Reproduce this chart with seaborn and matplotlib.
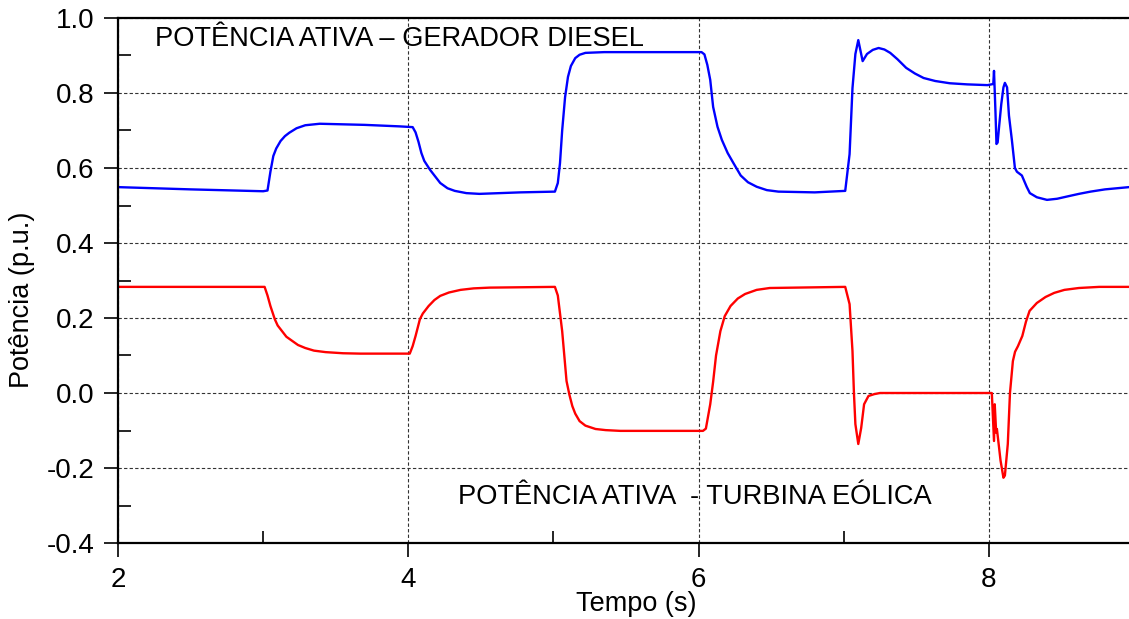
import matplotlib
matplotlib.use("Agg")
import matplotlib.pyplot as plt
import seaborn as sns
import pandas as pd
from matplotlib.ticker import MultipleLocator, FormatStrFormatter

# ---- data ----
t_diesel = [2.0, 2.5, 3.0, 3.03, 3.05, 3.07, 3.09, 3.12, 3.15, 3.18, 3.23,
            3.29, 3.39, 3.7, 3.94, 4.03, 4.05, 4.07, 4.09, 4.11, 4.15, 4.18,
            4.22, 4.27, 4.32, 4.4, 4.49, 4.77, 5.01, 5.03, 5.045, 5.06, 5.08,
            5.1, 5.12, 5.15, 5.18, 5.22, 5.35, 6.02, 6.04, 6.06, 6.08, 6.1,
            6.13, 6.16, 6.2, 6.24, 6.29, 6.34, 6.4, 6.47, 6.55, 6.8, 7.01,
            7.04, 7.06, 7.08, 7.10, 7.13, 7.16, 7.2, 7.24, 7.28, 7.32, 7.37,
            7.43, 7.49, 7.55, 7.63, 7.73, 7.85, 7.99, 8.03, 8.035, 8.045,
            8.052, 8.06, 8.07, 8.085, 8.10, 8.11, 8.125, 8.138, 8.158, 8.179,
            8.193, 8.227, 8.26, 8.282, 8.33, 8.40, 8.47, 8.55, 8.62, 8.7, 8.8,
            8.965]
p_diesel = [0.549, 0.543, 0.538, 0.540, 0.59, 0.632, 0.652, 0.672, 0.685,
            0.694, 0.706, 0.714, 0.718, 0.715, 0.711, 0.709, 0.695, 0.67,
            0.64, 0.619, 0.595, 0.58, 0.56, 0.546, 0.539, 0.533, 0.531, 0.535,
            0.537, 0.56, 0.613, 0.70, 0.789, 0.843, 0.872, 0.893, 0.902,
            0.907, 0.909, 0.909, 0.903, 0.875, 0.835, 0.763, 0.71, 0.675,
            0.64, 0.613, 0.58, 0.562, 0.55, 0.541, 0.537, 0.535, 0.539, 0.637,
            0.813, 0.904, 0.941, 0.885, 0.904, 0.915, 0.920, 0.916, 0.907,
            0.89, 0.867, 0.852, 0.840, 0.832, 0.826, 0.823, 0.821, 0.824,
            0.859, 0.75, 0.664, 0.668, 0.71, 0.77, 0.815, 0.827, 0.815, 0.74,
            0.675, 0.60, 0.59, 0.58, 0.55, 0.533, 0.522, 0.515, 0.518, 0.525,
            0.531, 0.537, 0.543, 0.549]

t_wind = [2.0, 2.5, 3.01, 3.03, 3.05, 3.08, 3.1, 3.13, 3.16, 3.2, 3.24, 3.29,
          3.35, 3.43, 3.55, 3.67, 3.98, 4.01, 4.03, 4.05, 4.08, 4.1, 4.14,
          4.18, 4.22, 4.28, 4.36, 4.45, 4.56, 5.01, 5.03, 5.06, 5.09, 5.11,
          5.13, 5.15, 5.18, 5.22, 5.29, 5.36, 5.46, 6.03, 6.05, 6.08, 6.1,
          6.12, 6.15, 6.18, 6.22, 6.27, 6.32, 6.4, 6.49, 7.01, 7.04, 7.06,
          7.07, 7.08, 7.10, 7.12, 7.14, 7.17, 7.21, 7.25, 8.02, 8.035, 8.04,
          8.05, 8.055, 8.07, 8.08, 8.10, 8.11, 8.13, 8.145, 8.165, 8.18, 8.2,
          8.23, 8.255, 8.28, 8.33, 8.39, 8.45, 8.52, 8.62, 8.76, 8.965]
p_wind = [0.283, 0.283, 0.283, 0.26, 0.232, 0.197, 0.18, 0.165, 0.15, 0.139,
          0.128, 0.120, 0.113, 0.109, 0.106, 0.105, 0.105, 0.105, 0.125,
          0.152, 0.197, 0.212, 0.232, 0.248, 0.259, 0.268, 0.275, 0.279,
          0.281, 0.283, 0.26, 0.165, 0.032, -0.005, -0.035, -0.055, -0.075,
          -0.087, -0.096, -0.099, -0.101, -0.101, -0.095, -0.03, 0.03, 0.1,
          0.165, 0.205, 0.232, 0.252, 0.264, 0.275, 0.280, 0.283, 0.237,
          0.112, 0.0, -0.083, -0.136, -0.093, -0.03, -0.008, -0.003, 0.0,
          0.0, -0.128, -0.03, -0.106, -0.096, -0.146, -0.18, -0.226, -0.22,
          -0.136, 0.0, 0.085, 0.11, 0.125, 0.152, 0.19, 0.219, 0.24, 0.256,
          0.267, 0.275, 0.28, 0.283, 0.283]

label_diesel = "POTÊNCIA ATIVA – GERADOR DIESEL"
label_wind = "POTÊNCIA ATIVA  - TURBINA EÓLICA"

df = pd.concat([
    pd.DataFrame({"t": t_diesel, "p": p_diesel, "serie": "diesel"}),
    pd.DataFrame({"t": t_wind, "p": p_wind, "serie": "eolica"}),
], ignore_index=True)

sns.set_style("ticks")
plt.rcParams["font.family"] = ["Liberation Sans", "DejaVu Sans"]
plt.rcParams["text.color"] = "black"
plt.rcParams["axes.labelcolor"] = "black"
plt.rcParams["xtick.color"] = "black"
plt.rcParams["ytick.color"] = "black"

fig = plt.figure(figsize=(11.29, 6.19), dpi=100)
ax = fig.add_axes([118/1129, 76/619, 1011/1129, 525/619])

sns.lineplot(data=df, x="t", y="p", hue="serie", estimator=None,
             palette={"diesel": "#0000ff", "eolica": "#ff0000"},
             linewidth=1.7, legend=False, ax=ax)

ax.set_xlim(2, 8.965)
ax.set_ylim(-0.4, 1.0)
ax.xaxis.set_major_locator(MultipleLocator(2))
ax.xaxis.set_minor_locator(MultipleLocator(1))
ax.yaxis.set_major_locator(MultipleLocator(0.2))
ax.yaxis.set_minor_locator(MultipleLocator(0.1))
ax.yaxis.set_major_formatter(FormatStrFormatter("%.1f"))

ax.tick_params(which="major", direction="out", length=10, width=1.2,
               labelsize=20, colors="black", pad=7)
ax.tick_params(which="minor", direction="in", length=9, width=1.2,
               colors="black")
ax.tick_params(axis="x", which="minor", top=False)

for s in ["left", "bottom", "top"]:
    ax.spines[s].set_linewidth(1.6)
    ax.spines[s].set_color("black")
ax.spines["right"].set_visible(False)

ax.grid(True, which="major", color="#333333", linestyle=(0, (3, 2)),
        linewidth=0.8)
ax.set_axisbelow(True)

ax.text(2.255, 0.944, label_diesel, fontsize=19.6, va="center", ha="left",
        color="black")
ax.text(4.342, -0.277, label_wind, fontsize=19.6, va="center", ha="left",
        color="black")

ax.set_xlabel("Tempo (s)", fontsize=19.5, color="black")
ax.set_ylabel("Potência (p.u.)", fontsize=19.5, color="black")
ax.xaxis.set_label_coords((636 - 118) / 1011, (543 - 591) / 525)
ax.yaxis.set_label_coords((35 - 118) / 1011, (543 - 300) / 525)

fig.savefig("out.png", dpi=100)
